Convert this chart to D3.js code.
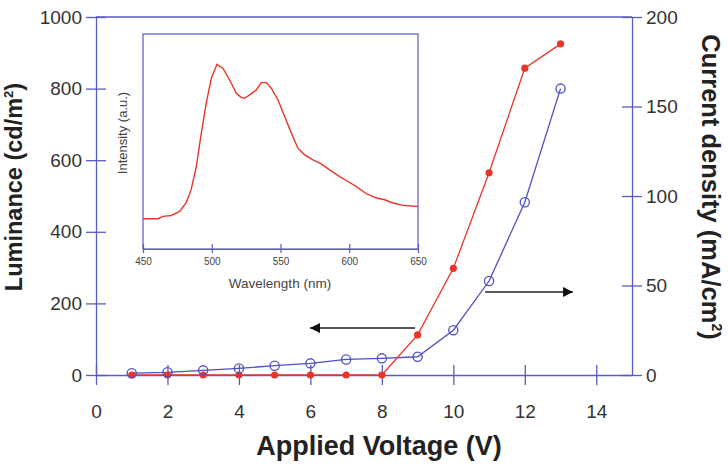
<!DOCTYPE html>
<html>
<head>
<meta charset="utf-8">
<script src="https://cdn.jsdelivr.net/npm/d3@7"></script>
<style>
  body { margin: 0; background: #fff; }
  svg { display: block; font-family: "Liberation Sans", Arial, sans-serif; }
</style>
</head>
<body>
<div id="chart"></div>
<script>
// applied voltage (V)
const voltage = [1, 2, 3, 4, 5, 6, 7, 8, 9, 10, 11, 12, 13];
// luminance (cd/m2), left axis
const luminance = [0, 0, 0, 0, 0, 0, 0, 0, 112, 298, 565, 857, 925];
// current density (mA/cm2), right axis
const currentDensity = [1, 1.5, 2.6, 3.7, 5.2, 6.5, 8.7, 9.3, 10.2, 25, 52.5, 96.5, 160];

const xTicks = [0, 2, 4, 6, 8, 10, 12, 14];
const lumTicks = [0, 200, 400, 600, 800, 1000];
const curTicks = [0, 50, 100, 150, 200];

// inset EL spectrum
const wavelength = [450, 461, 464.5, 470.6, 476.7, 481.5, 485, 488.8, 492.4, 496, 499.7, 503.8,
  508.2, 513, 517.9, 521.5, 523.9, 527.6, 532.4, 536, 539.7, 543.3, 548.2, 553, 557.9, 562.7,
  567.6, 573.6, 579.7, 585.7, 593, 599, 605, 612.4, 619.7, 625.8, 631.8, 639, 650];
const intensity = [0.141, 0.141, 0.152, 0.156, 0.175, 0.217, 0.276, 0.384, 0.539, 0.678, 0.794, 0.859,
  0.84, 0.786, 0.724, 0.704, 0.701, 0.717, 0.74, 0.774, 0.774, 0.748, 0.693, 0.616, 0.539, 0.469,
  0.438, 0.415, 0.396, 0.368, 0.337, 0.314, 0.291, 0.257, 0.237, 0.229, 0.214, 0.203, 0.198];
const waveTicks = [450, 500, 550, 600, 650];

// arrow annotations: [x from, x to, value]
const lumArrow = [8.93, 5.99, 131];
const curArrow = [10.89, 13.35, 46.4];

const axisColor = "#5a5ac4";
const red = "#e8352b";
const blue = "#4f4fc2";
const textColor = "#333";

const svg = d3.select("#chart").append("svg")
  .attr("width", 728)
  .attr("height", 465);

const x = d3.scaleLinear().domain([0, 15]).range([96, 632]);
const yL = d3.scaleLinear().domain([0, 1000]).range([375, 17]);
const yR = d3.scaleLinear().domain([0, 200]).range([375, 17]);

function styleAxis(g) {
  g.select(".domain").attr("stroke", axisColor).attr("stroke-width", 1.3);
  g.selectAll(".tick line").attr("stroke", axisColor).attr("stroke-width", 1.3);
  g.selectAll(".tick text").attr("fill", textColor)
    .style("font-size", "19px");
}

// top frame
svg.append("line")
  .attr("x1", x(0)).attr("x2", x(15))
  .attr("y1", yL(1000)).attr("y2", yL(1000))
  .attr("stroke", axisColor).attr("stroke-width", 1.3);

// x axis
const gx = svg.append("g")
  .attr("transform", `translate(0,${yL(0)})`)
  .call(d3.axisBottom(x).tickValues(xTicks).tickSize(10).tickSizeOuter(0).tickPadding(20));
gx.selectAll(".tick line").attr("y1", -10);
styleAxis(gx);

// left axis
const gl = svg.append("g")
  .attr("transform", `translate(${x(0)},0)`)
  .call(d3.axisLeft(yL).tickValues(lumTicks).tickFormat(d3.format("d"))
    .tickSize(10).tickSizeOuter(0).tickPadding(4));
gl.selectAll(".tick line").attr("x1", 10);
styleAxis(gl);

// right axis
const gr = svg.append("g")
  .attr("transform", `translate(${x(15)},0)`)
  .call(d3.axisRight(yR).tickValues(curTicks).tickSize(10).tickSizeOuter(0).tickPadding(4));
gr.selectAll(".tick line").attr("x1", -10);
styleAxis(gr);

// axis titles
svg.append("text")
  .attr("x", 379).attr("y", 455)
  .attr("text-anchor", "middle")
  .attr("fill", "#222")
  .style("font-size", "27px").style("font-weight", "bold")
  .text("Applied Voltage (V)");

const lt = svg.append("text")
  .attr("transform", "translate(22,187) rotate(-90)")
  .attr("text-anchor", "middle")
  .attr("fill", "#222")
  .style("font-size", "23.5px").style("font-weight", "bold");
lt.append("tspan").text("Luminance (cd/m");
lt.append("tspan").attr("dy", -9).style("font-size", "13px").text("2");
lt.append("tspan").attr("dy", 9).text(")");

const rt = svg.append("text")
  .attr("transform", "translate(702,187) rotate(90)")
  .attr("text-anchor", "middle")
  .attr("fill", "#222")
  .style("font-size", "25.5px").style("font-weight", "bold");
rt.append("tspan").text("Current density (mA/cm");
rt.append("tspan").attr("dy", -10).style("font-size", "14px").text("2");
rt.append("tspan").attr("dy", 10).text(")");

// data series
const lumData = voltage.map((v, i) => ({ v, y: luminance[i] }));
const curData = voltage.map((v, i) => ({ v, y: currentDensity[i] }));

svg.append("path")
  .datum(curData)
  .attr("fill", "none").attr("stroke", blue).attr("stroke-width", 1.3)
  .attr("d", d3.line().x(d => x(d.v)).y(d => yR(d.y)));

svg.append("path")
  .datum(lumData)
  .attr("fill", "none").attr("stroke", red).attr("stroke-width", 1.3)
  .attr("d", d3.line().x(d => x(d.v)).y(d => yL(d.y)));

svg.selectAll(".lum-dot")
  .data(lumData)
  .join("circle")
  .attr("class", "lum-dot")
  .attr("cx", d => x(d.v)).attr("cy", d => yL(d.y))
  .attr("r", 3.6)
  .attr("fill", red);

svg.selectAll(".cur-dot")
  .data(curData)
  .join("circle")
  .attr("class", "cur-dot")
  .attr("cx", d => x(d.v)).attr("cy", d => yR(d.y))
  .attr("r", 4.6)
  .attr("fill", "none").attr("stroke", blue).attr("stroke-width", 1.3);

// arrows
svg.append("defs").append("marker")
  .attr("id", "head")
  .attr("viewBox", "0 0 10 10")
  .attr("refX", 10).attr("refY", 5)
  .attr("markerWidth", 10).attr("markerHeight", 10)
  .attr("markerUnits", "userSpaceOnUse")
  .attr("orient", "auto")
  .append("path").attr("d", "M0,0L10,5L0,10Z").attr("fill", "#111");

svg.append("line")
  .attr("x1", x(lumArrow[0])).attr("x2", x(lumArrow[1]))
  .attr("y1", yL(lumArrow[2])).attr("y2", yL(lumArrow[2]))
  .attr("stroke", "#222").attr("stroke-width", 1.5)
  .attr("marker-end", "url(#head)");

svg.append("line")
  .attr("x1", x(curArrow[0])).attr("x2", x(curArrow[1]))
  .attr("y1", yR(curArrow[2])).attr("y2", yR(curArrow[2]))
  .attr("stroke", "#222").attr("stroke-width", 1.5)
  .attr("marker-end", "url(#head)");

// inset
const ix = d3.scaleLinear().domain([450, 650]).range([143, 418]);
const iy = d3.scaleLinear().domain([0, 1]).range([249, 34]);

svg.append("rect")
  .attr("x", 143).attr("y", 34)
  .attr("width", 275).attr("height", 215)
  .attr("fill", "#fff").attr("stroke", axisColor).attr("stroke-width", 1.2);

const gi = svg.append("g")
  .attr("transform", "translate(0,249)")
  .call(d3.axisBottom(ix).tickValues(waveTicks).tickSize(4).tickSizeOuter(0).tickPadding(5));
gi.selectAll(".tick line").attr("y1", -5);
gi.select(".domain").attr("stroke", axisColor).attr("stroke-width", 1.2);
gi.selectAll(".tick line").attr("stroke", axisColor).attr("stroke-width", 1.2);
gi.selectAll(".tick text").attr("fill", "#444").style("font-size", "10px");

svg.append("text")
  .attr("x", 280).attr("y", 288)
  .attr("text-anchor", "middle")
  .attr("fill", "#444")
  .style("font-size", "13.5px")
  .text("Wavelength (nm)");

svg.append("text")
  .attr("transform", "translate(127,133) rotate(-90)")
  .attr("text-anchor", "middle")
  .attr("fill", "#444")
  .style("font-size", "13px")
  .text("Intensity (a.u.)");

svg.append("path")
  .datum(wavelength.map((w, i) => ({ w, v: intensity[i] })))
  .attr("fill", "none").attr("stroke", red).attr("stroke-width", 1.4)
  .attr("d", d3.line().x(d => ix(d.w)).y(d => iy(d.v)));
</script>
</body>
</html>
